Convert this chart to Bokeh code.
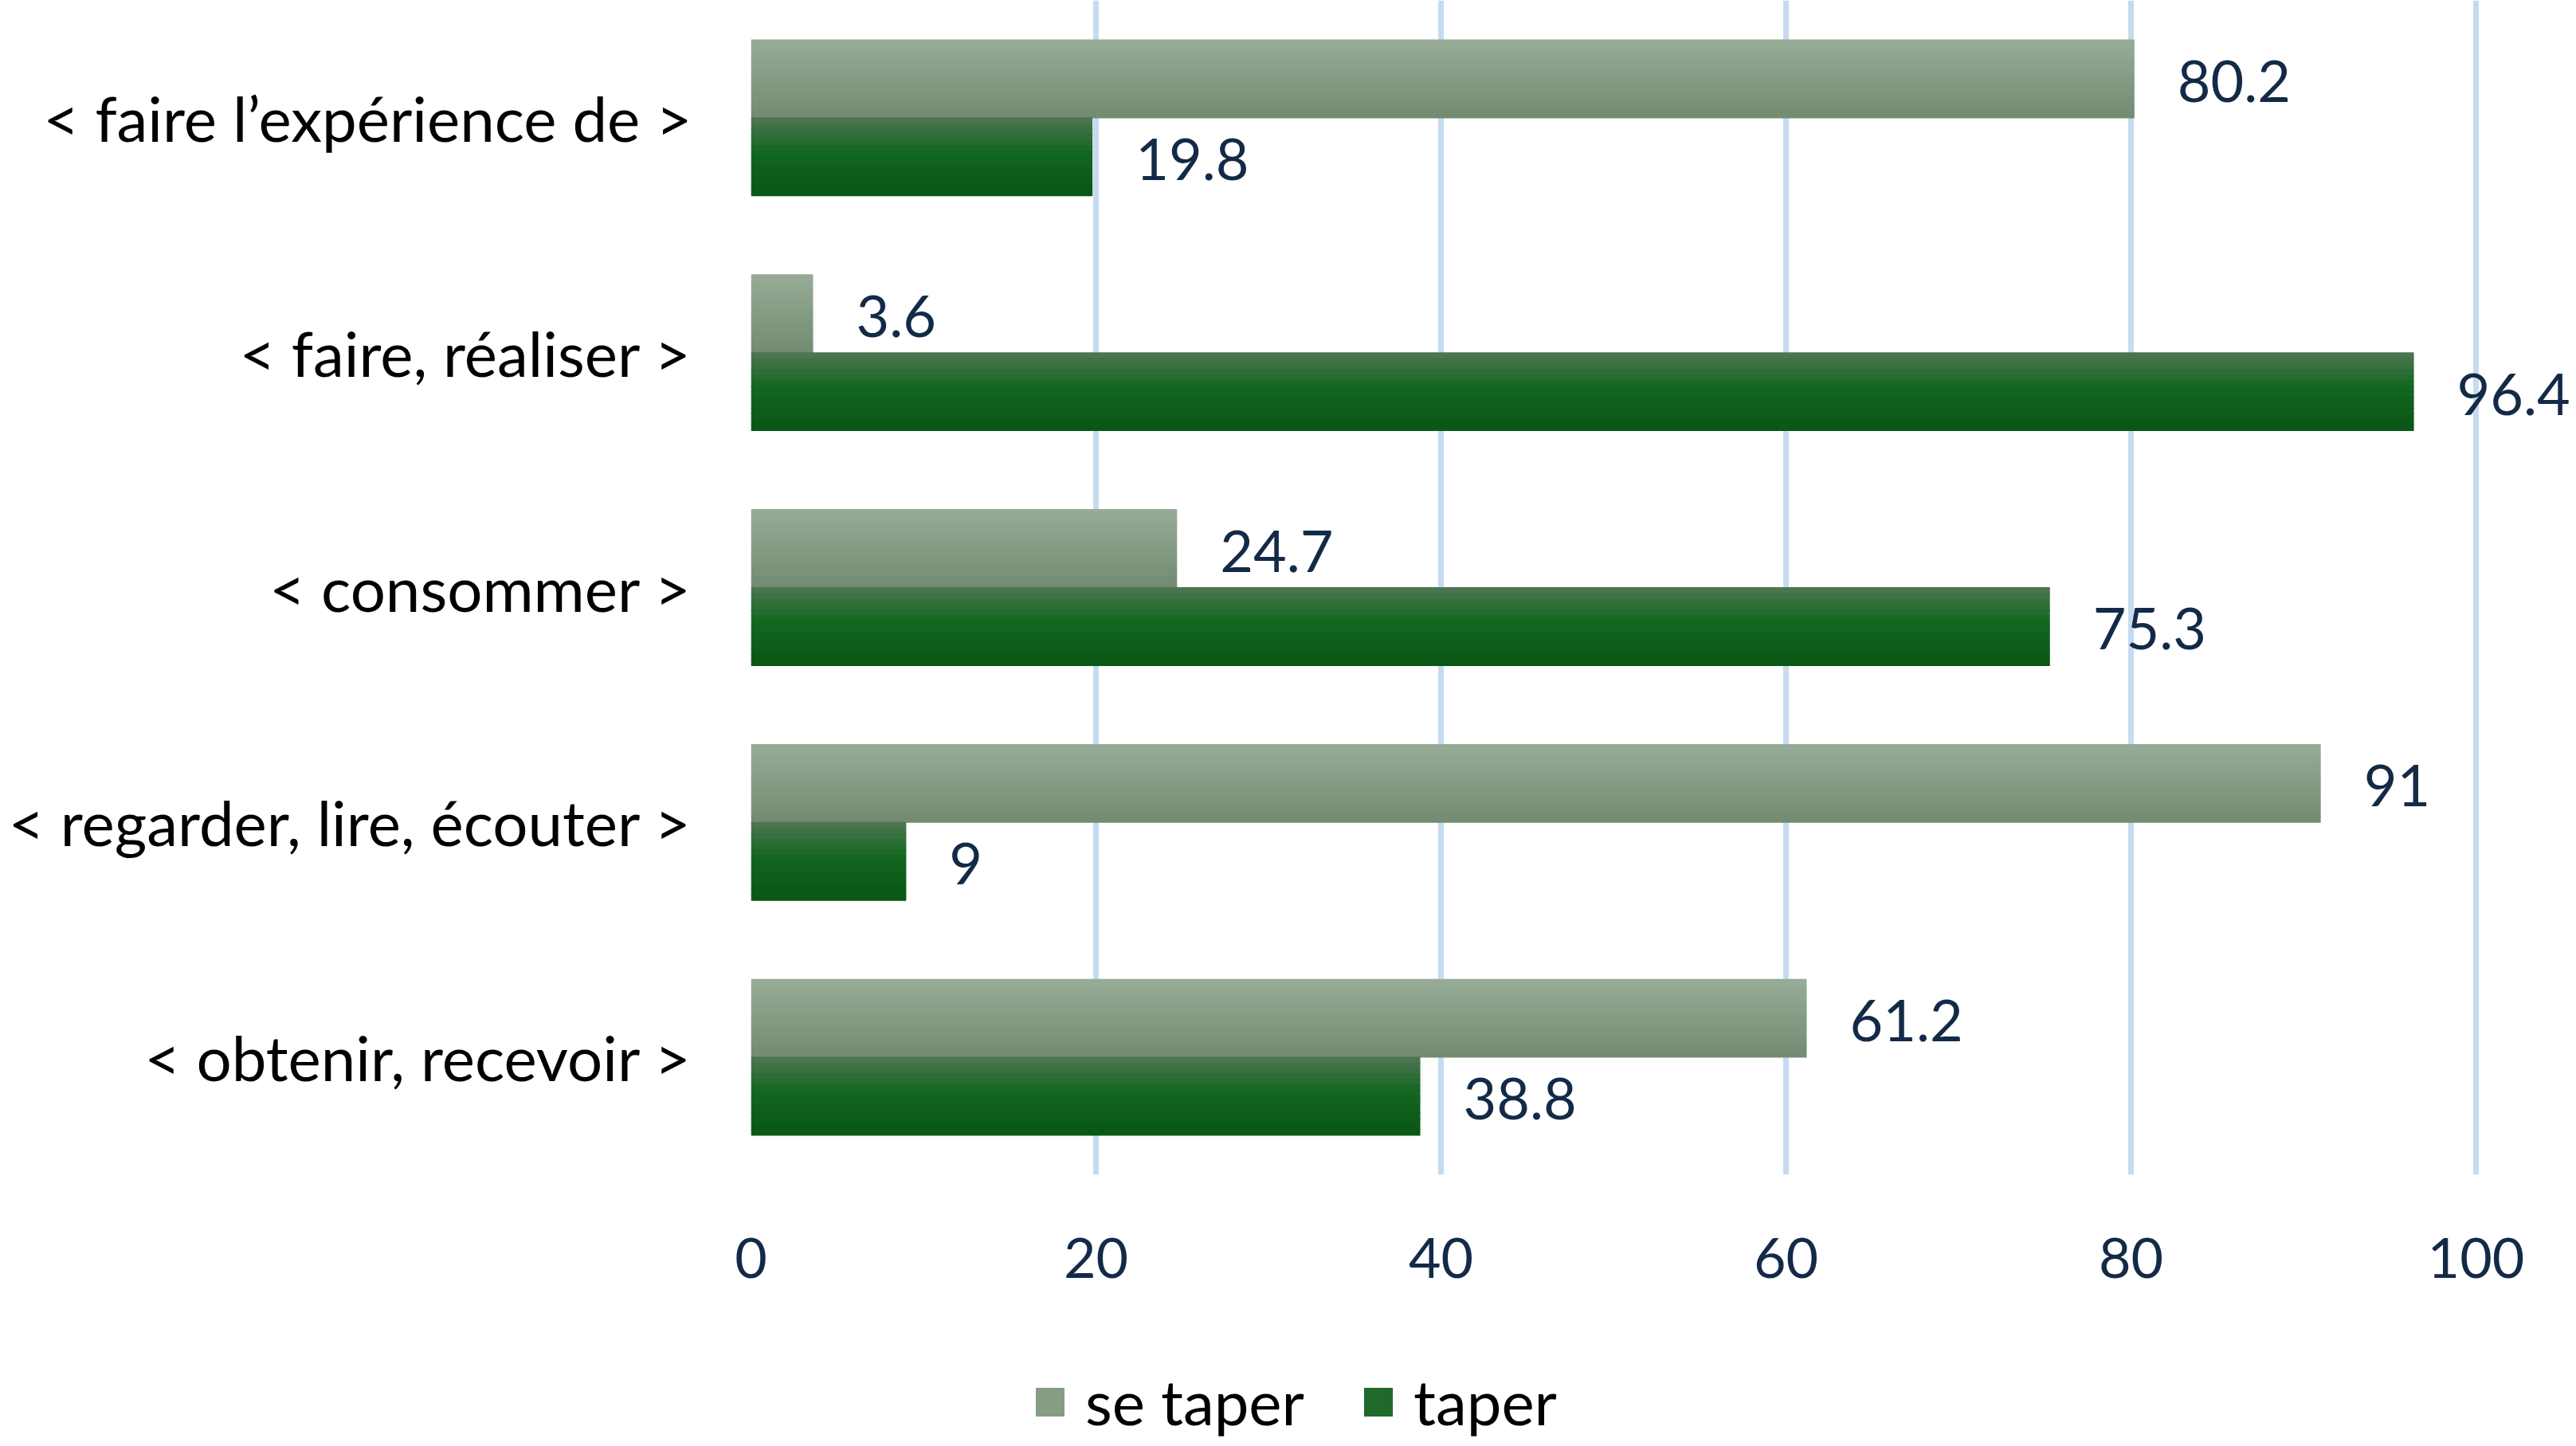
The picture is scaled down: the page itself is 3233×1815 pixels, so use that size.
"""Horizontal grouped bar chart: se taper vs taper by meaning"""
from bokeh.core.properties import value
from bokeh.embed import file_html
from bokeh.layouts import column
from bokeh.models import ColumnDataSource, FactorRange, FixedTicker, Legend, LegendItem
from bokeh.plotting import figure
from bokeh.resources import INLINE
from bokeh.transform import dodge

# Data
categories = [
    "< faire l’expérience de >",
    "< faire, réaliser >",
    "< consommer >",
    "< regarder, lire, écouter >",
    "< obtenir, recevoir >",
]
se_taper = [80.2, 3.6, 24.7, 91, 61.2]
taper = [19.8, 96.4, 75.3, 9, 38.8]
series_names = ["se taper", "taper"]
x_ticks = [0, 20, 40, 60, 80, 100]

# Styles
FONT = "Lato"
NAVY = "#132a47"
WIDTH = 3233
BAR_H = 0.332
N_STRIPS = 14
gradients = {
    "se taper": [(0.0, "#96ab96"), (1.0, "#738c72")],
    "taper": [(0.0, "#4a7550"), (0.45, "#12661e"), (1.0, "#0b5716")],
}
legend_colors = {"se taper": "#869d85", "taper": "#1f6a2b"}
offsets = {"se taper": BAR_H / 2, "taper": -BAR_H / 2}


def mix(stops, t):
    """Interpolate a color along gradient stops"""
    for (t0, c0), (t1, c1) in zip(stops, stops[1:]):
        if t0 <= t <= t1:
            f = (t - t0) / (t1 - t0)
            a = [int(c0[i:i + 2], 16) for i in (1, 3, 5)]
            b = [int(c1[i:i + 2], 16) for i in (1, 3, 5)]
            return "#%02x%02x%02x" % tuple(round(x + (y - x) * f) for x, y in zip(a, b))
    return stops[-1][1]


p = figure(
    width=WIDTH,
    height=1706,
    y_range=FactorRange(factors=categories[::-1]),
    x_range=(0, 105.82),
    output_backend="svg",
    toolbar_location=None,
    tools="",
    min_border_left=942,
    min_border_right=0,
    min_border_top=0,
    min_border_bottom=232,
    outline_line_color=None,
)

source = ColumnDataSource(data=dict(
    cat=categories,
    **{"se taper": se_taper, "taper": taper},
    se_label=[f"{v:g}" for v in se_taper],
    taper_label=[f"{v:g}" for v in taper],
))

for name in series_names:
    stops = gradients[name]
    center = offsets[name]
    for k in range(N_STRIPS):
        off = center + BAR_H / 2 - (k + 0.5) * BAR_H / N_STRIPS
        p.hbar(
            y=dodge("cat", off, range=p.y_range),
            left=0,
            right=name,
            height=BAR_H / N_STRIPS * 1.15,
            color=mix(stops, k / (N_STRIPS - 1)),
            line_color=None,
            source=source,
        )

for name, col in [("se taper", "se_label"), ("taper", "taper_label")]:
    p.text(
        x=name,
        y=dodge("cat", offsets[name] - 0.01, range=p.y_range),
        text=col,
        x_offset=54,
        text_baseline="middle",
        text_font=value(FONT),
        text_font_size="72px",
        text_color=NAVY,
        source=source,
    )

# Axes and grid
p.xaxis.ticker = FixedTicker(ticks=x_ticks)
p.xgrid.ticker = FixedTicker(ticks=x_ticks)
p.xgrid.grid_line_color = "#c6dbf1"
p.xgrid.grid_line_width = 7
p.ygrid.visible = False
p.axis.axis_line_color = None
p.axis.major_tick_line_color = None
p.axis.minor_tick_line_color = None
p.axis.major_label_text_font = FONT
p.xaxis.major_label_text_font_size = "70px"
p.xaxis.major_label_text_color = NAVY
p.xaxis.major_label_standoff = 73
p.yaxis.major_label_text_font_size = "78px"
p.yaxis.major_label_text_color = "black"
p.yaxis.major_label_standoff = 68

# Legend strip below the chart (its frame lines up with the main frame)
leg = figure(
    width=WIDTH,
    height=100,
    x_range=(0, 1),
    y_range=(0, 1),
    output_backend="svg",
    toolbar_location=None,
    tools="",
    min_border=0,
    outline_line_color=None,
)
leg.axis.visible = False
leg.grid.visible = False
items = []
for name in series_names:
    # zero-length bar: only its legend swatch is seen
    r = leg.hbar(y=[0], left=[0], right=[0], height=0, color=legend_colors[name], line_color=None)
    items.append(LegendItem(label=name, renderers=[r]))

legend = Legend(
    items=items,
    orientation="horizontal",
    location=(353, 0),
    glyph_width=45,
    glyph_height=45,
    label_standoff=22,
    spacing=70,
    padding=0,
    margin=0,
    border_line_color=None,
    background_fill_alpha=0,
    label_text_font=FONT,
    label_text_font_size="78px",
    label_text_color="black",
)
leg.add_layout(legend)

open("out.html", "w").write(file_html(column(p, leg), INLINE))
